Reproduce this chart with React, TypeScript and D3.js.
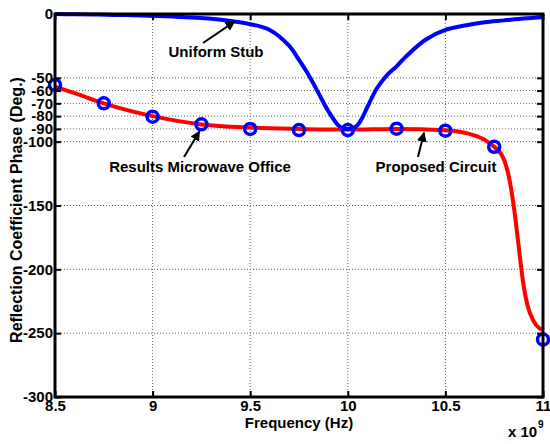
import React, { useEffect, useRef } from 'react';
import * as d3 from 'd3';

// Uniform stub phase (deg) vs frequency (GHz)
const stubFreq = [8.5, 8.6, 8.7, 8.8, 8.9, 9.0, 9.1, 9.2, 9.3, 9.4, 9.5, 9.6, 9.7, 9.75, 9.8, 9.85, 9.9, 9.95, 9.975, 10.0, 10.025, 10.05, 10.075, 10.1, 10.15, 10.2, 10.25, 10.3, 10.4, 10.5, 10.6, 10.7, 10.8, 10.9, 11.0];
const stubPhase = [0, -0.2, -0.4, -0.7, -1.0, -1.5, -2.0, -2.8, -3.8, -5.5, -8, -12.5, -25, -36, -48, -62, -76, -87, -89.5, -90, -89.5, -87, -81, -73, -58, -48, -41, -33, -20, -12.5, -9, -6.5, -5, -3.5, -2.5];

// Proposed circuit
const circuitFreq = [8.5, 8.6, 8.75, 8.9, 9.0, 9.25, 9.5, 9.75, 10.0, 10.25, 10.5, 10.6, 10.7, 10.75, 10.8, 10.82, 10.84, 10.86, 10.88, 10.9, 10.92, 10.95, 10.98, 11.0];
const circuitPhase = [-57, -62, -70, -76.5, -80, -86.5, -89, -90, -90.5, -90, -91, -93, -98.5, -104, -114, -124, -140, -162, -188, -212, -228, -240, -246, -247.5];

// Microwave Office results
const mwoFreq = [8.5, 8.75, 9.0, 9.25, 9.5, 9.75, 10.0, 10.25, 10.5, 10.75, 11.0];
const mwoPhase = [-55.6, -70, -80.4, -86.4, -90, -90.9, -90.9, -89.8, -91.4, -104, -255];

const xTicks = [8.5, 9, 9.5, 10, 10.5, 11];
const yTicks = [0, -50, -60, -70, -80, -90, -100, -150, -200, -250, -300];

const FONT = '"Liberation Sans", Arial, Helvetica, sans-serif';

const App = () => {
  const svgRef = useRef<SVGSVGElement>(null);

  useEffect(() => {
    const svg = d3.select(svgRef.current);
    svg.selectAll('*').remove();

    const width = 550;
    const height = 444;
    const left = 55, right = 543, top = 14, bottom = 397;

    const x = d3.scaleLinear().domain([8.5, 11]).range([left, right]);
    const y = d3.scaleLinear().domain([-300, 0]).range([bottom, top]);

    svg.attr('width', width).attr('height', height);
    svg.append('rect').attr('width', width).attr('height', height).attr('fill', '#fff');

    // grid
    const grid = svg.append('g').attr('stroke', '#666').attr('stroke-width', 1).attr('stroke-dasharray', '1,2');
    xTicks.slice(1, -1).forEach(t => {
      grid.append('line').attr('x1', x(t)).attr('x2', x(t)).attr('y1', top).attr('y2', bottom);
    });
    yTicks.slice(1, -1).forEach(t => {
      grid.append('line').attr('x1', left).attr('x2', right).attr('y1', y(t)).attr('y2', y(t));
    });

    const line = d3.line<[number, number]>()
      .x(d => x(d[0]))
      .y(d => y(d[1]))
      .curve(d3.curveMonotoneX);

    // proposed circuit
    svg.append('path')
      .datum(circuitFreq.map((f, i) => [f, circuitPhase[i]] as [number, number]))
      .attr('d', line)
      .attr('fill', 'none')
      .attr('stroke', '#ff0000')
      .attr('stroke-width', 4);

    // uniform stub
    svg.append('path')
      .datum(stubFreq.map((f, i) => [f, stubPhase[i]] as [number, number]))
      .attr('d', d3.line<[number, number]>().x(d => x(d[0])).y(d => y(d[1])).curve(d3.curveCatmullRom))
      .attr('fill', 'none')
      .attr('stroke', '#0000ff')
      .attr('stroke-width', 4);

    // microwave office markers
    svg.selectAll('circle.mwo')
      .data(mwoFreq.map((f, i) => [f, mwoPhase[i]]))
      .enter()
      .append('circle')
      .attr('class', 'mwo')
      .attr('cx', d => x(d[0]))
      .attr('cy', d => y(d[1]))
      .attr('r', 5.5)
      .attr('fill', 'none')
      .attr('stroke', '#0000ff')
      .attr('stroke-width', 3.5);

    // axes
    const styleAxis = (g: any) => {
      g.select('.domain').remove();
      g.selectAll('line').attr('stroke', '#000').attr('stroke-width', 2);
      g.selectAll('text').attr('font-family', FONT).attr('font-size', 15).attr('font-weight', 'bold').attr('fill', '#000');
    };

    svg.append('g').attr('transform', `translate(0,${bottom})`)
      .call(d3.axisBottom(x).tickValues(xTicks).tickFormat(d => String(d)).tickSizeInner(-6).tickSizeOuter(0).tickPadding(3))
      .call(styleAxis);
    svg.append('g').attr('transform', `translate(0,${top})`)
      .call(d3.axisTop(x).tickValues(xTicks).tickFormat(() => '').tickSizeInner(-6).tickSizeOuter(0))
      .call(styleAxis);
    svg.append('g').attr('transform', `translate(${left},0)`)
      .call(d3.axisLeft(y).tickValues(yTicks).tickFormat(d => String(d)).tickSizeInner(-6).tickSizeOuter(0).tickPadding(2))
      .call(styleAxis);
    svg.append('g').attr('transform', `translate(${right},0)`)
      .call(d3.axisRight(y).tickValues(yTicks).tickFormat(() => '').tickSizeInner(-6).tickSizeOuter(0))
      .call(styleAxis);

    svg.append('rect')
      .attr('x', left).attr('y', top).attr('width', right - left).attr('height', bottom - top)
      .attr('fill', 'none').attr('stroke', '#000').attr('stroke-width', 3);

    const txt = (tx: number, ty: number, s: string, anchor = 'middle', size = 15) =>
      svg.append('text').attr('x', tx).attr('y', ty).attr('text-anchor', anchor)
        .attr('font-family', FONT).attr('font-size', size).attr('font-weight', 'bold').text(s);

    txt((left + right) / 2, 428, 'Frequency (Hz)');
    txt(508, 437, 'x 10', 'start');
    txt(538, 428, '9', 'start', 10);

    svg.append('text')
      .attr('transform', `translate(22,210) rotate(-90)`)
      .attr('text-anchor', 'middle')
      .attr('font-family', FONT).attr('font-size', 16).attr('font-weight', 'bold')
      .text('Reflection Coefficient Phase (Deg.)');

    // annotations
    const defs = svg.append('defs');
    defs.append('marker').attr('id', 'ah').attr('viewBox', '0 0 10 10').attr('refX', 9).attr('refY', 5)
      .attr('markerWidth', 5).attr('markerHeight', 5).attr('orient', 'auto')
      .append('path').attr('d', 'M0,0 L10,5 L0,10 z').attr('fill', '#000');

    const arrow = (x1: number, y1: number, x2: number, y2: number) =>
      svg.append('line').attr('x1', x1).attr('y1', y1).attr('x2', x2).attr('y2', y2)
        .attr('stroke', '#000').attr('stroke-width', 2).attr('marker-end', 'url(#ah)');

    txt(216, 57, 'Uniform Stub');
    arrow(203, 43, x(9.42), y(-6));
    txt(200, 172, 'Results Microwave Office');
    arrow(184, 157, x(9.24), y(-92));
    txt(436, 172, 'Proposed Circuit');
    arrow(418, 157, 424, y(-93));
  }, []);

  return <svg ref={svgRef} style={{ position: 'absolute', left: 0, top: 0 }} />;
};

export default App;
